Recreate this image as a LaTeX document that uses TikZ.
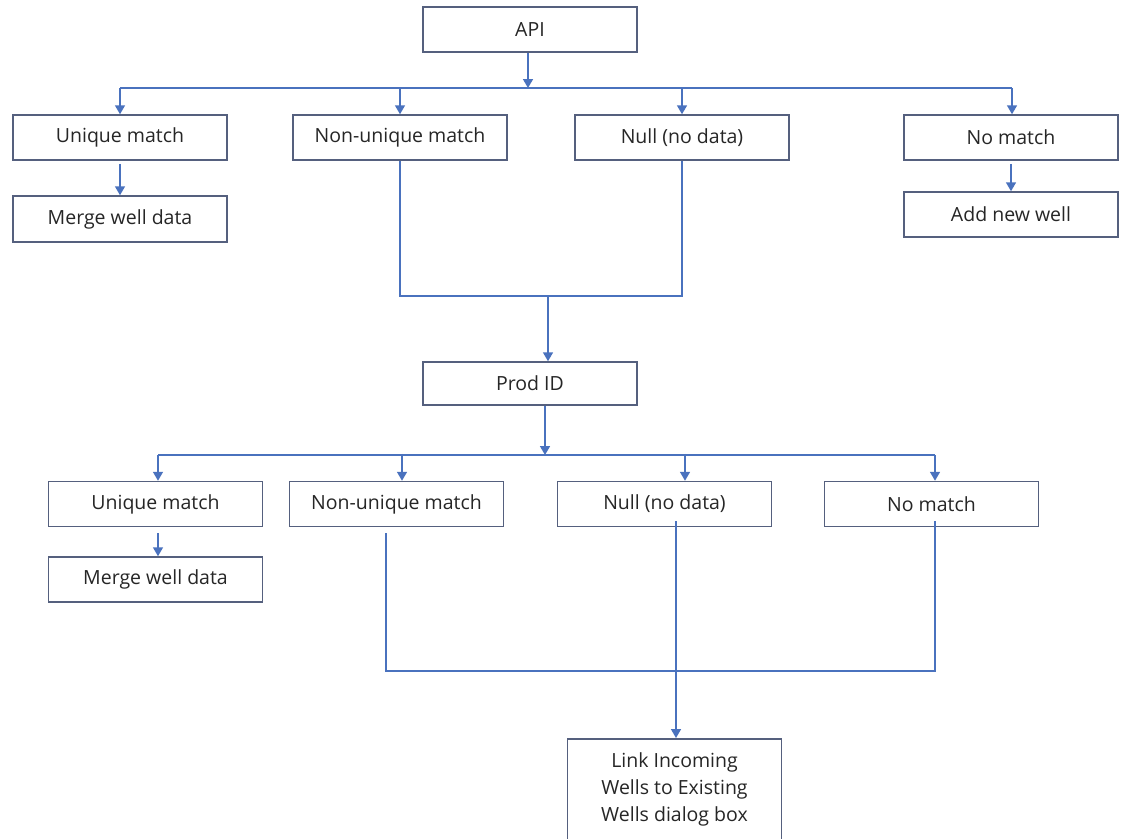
\documentclass[tikz,border=0pt]{standalone}
\usepackage{fontspec}
\setmainfont{Open Sans}
\usetikzlibrary{arrows.meta}
\definecolor{boxc}{HTML}{55607E}
\definecolor{linec}{HTML}{4A72BE}
\definecolor{txtc}{HTML}{262626}
\tikzset{
  box/.style={draw=boxc, line width=1.5pt, fill=white, text=txtc,
    font=\fontsize{19.5}{27}\selectfont, inner sep=0pt,
    minimum width=214pt, minimum height=45pt},
  conn/.style={draw=linec, line width=1.6pt},
  arr/.style={conn, -{Triangle[length=9pt,width=10pt]}}
}
\begin{document}
\begin{tikzpicture}[x=1pt,y=-1pt]
\useasboundingbox[fill=white] (0,0) rectangle (1121,838);
% top level
\node[box] (API) at (530,29.5) {API};
\node[box] (U1) at (120,137.5) {Unique match};
\node[box] (N1) at (400,137.5) {Non-unique match};
\node[box] (Z1) at (682,137.5) {Null (no data)};
\node[box] (X1) at (1011,137.5) {No match};
\node[box, minimum height=46pt] (M1) at (120,219) {Merge well data};
\node[box] (A1) at (1011,214.5) {Add new well};
\node[box, minimum height=43pt] (P) at (530,383.5) {Prod ID};
% bottom level
\node[box] (U2) at (155.5,504) {Unique match};
\node[box] (N2) at (396.5,504) {Non-unique match};
\node[box] (Z2) at (664.5,504) {Null (no data)};
\node[box] (X2) at (931.5,504) {No match};
\node[box] (M2) at (155.5,579.5) {Merge well data};
\node[box, anchor=north, minimum height=130pt, align=center, inner ysep=14pt, text depth=64pt] (L) at (674.5,738) {Link Incoming\\Wells to Existing\\Wells dialog box};
% coordinates
\coordinate (b1) at (528,88);
\coordinate (b1l) at (120,88);
\coordinate (b1r) at (1012,88);
\coordinate (m1l) at (400,296);
\coordinate (m1r) at (682,296);
\coordinate (m1c) at (548,296);
\coordinate (b2) at (545,455);
\coordinate (b2l) at (158,455);
\coordinate (b2r) at (935,455);
\coordinate (m2l) at (386,671);
\coordinate (m2r) at (935,671);
\coordinate (m2c) at (676,671);
% top connectors
\draw[arr] (API.south -| b1) -- (b1);
\draw[conn] (b1l) -- (b1r);
\draw[arr] (b1l) -- (U1.north);
\draw[arr] (N1.north |- b1) -- (N1.north);
\draw[arr] (Z1.north |- b1) -- (Z1.north);
\draw[arr] (b1r) -- (X1.north -| b1r);
\draw[arr] ([yshift=-3pt]U1.south) -- (M1.north);
\draw[arr] ([yshift=-3pt]X1.south) -- (A1.north);
\draw[conn] (N1.south) -- (m1l) -- (m1r) -- (Z1.south);
\draw[arr] (m1c) -- (P.north -| m1c);
% bottom connectors
\draw[arr] (P.south -| b2) -- (b2);
\draw[conn] (b2l) -- (b2r);
\draw[arr] (b2l) -- (U2.north -| b2l);
\draw[arr] (N2.north -| 402,0) ++(0,-27) -- (N2.north -| 402,0);
\draw[arr] (Z2.north -| 685,0) ++(0,-27) -- (Z2.north -| 685,0);
\draw[arr] (b2r) -- (X2.north -| b2r);
\draw[arr] ([yshift=-6pt]U2.south -| b2l) -- (M2.north -| b2l);
\draw[conn] (N2.south -| m2l) ++(0,6) -- (m2l) -- (m2r) -- ([yshift=6pt]X2.south -| m2r);
\draw[conn] ([yshift=6pt]Z2.south -| m2c) -- (m2c);
\draw[arr] (m2c) -- (L.north -| m2c);
\end{tikzpicture}
\end{document}
